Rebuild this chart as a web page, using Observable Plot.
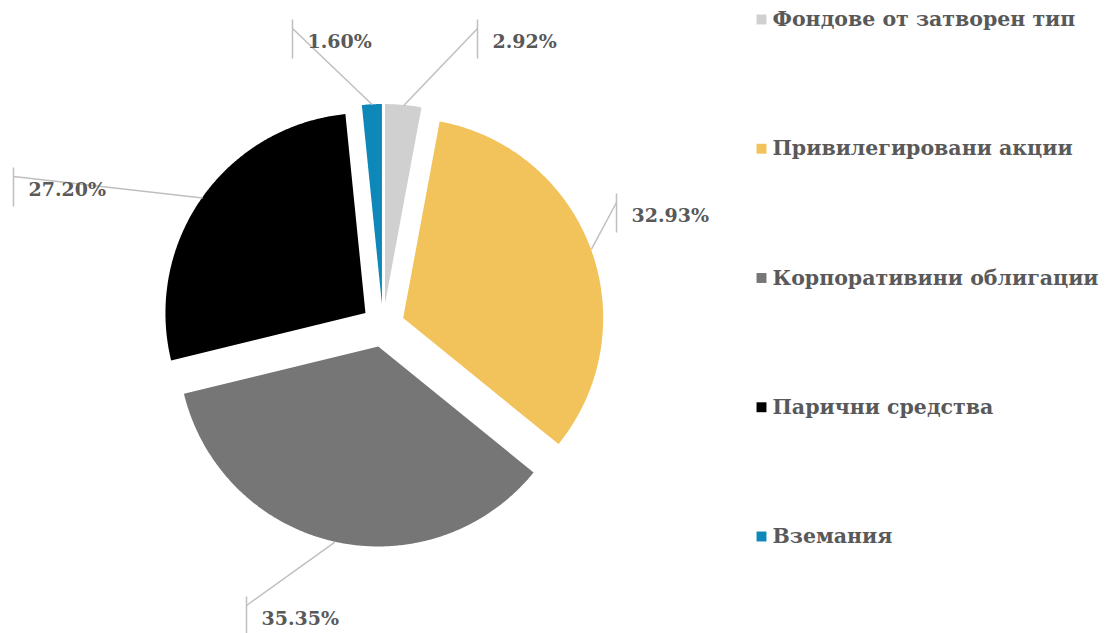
<!DOCTYPE html>
<html><head><meta charset="utf-8">
<script src="https://cdn.jsdelivr.net/npm/d3@7"></script>
<script src="https://cdn.jsdelivr.net/npm/@observablehq/plot@0.6"></script>
<style>body{margin:0;background:#fff} #chart{width:1112px;height:633px}</style>
</head><body><div id="chart"></div>
<script>
// ---- data ----
const categories = ["Фондове от затворен тип", "Привилегировани акции", "Корпоративини облигации", "Парични средства", "Вземания"];
const values = [2.92, 32.93, 35.35, 27.20, 1.60];
const labels = ["2.92%", "32.93%", "35.35%", "27.20%", "1.60%"];
const colors = ["#d0d0d0", "#f2c35b", "#767676", "#000000", "#0e87b9"];

// ---- layout (pixels) ----
const W = 1112, H = 633, CX = 383, CY = 325.5, R = 200, EXPLODE = 21.5;
const labelBoxes = [[477, 19], [616, 193], [246, 596], [13, 167], [292, 19]];
const legendX = 761, legendTextX = 772, legendY0 = 19, legendStep = 129.25;
const ux = px => (px - CX) / R;
const uy = py => (CY - py) / R;
const FONT = "DejaVu Serif";

// ---- slices ----
const total = d3.sum(values);
let acc = 0;
const slices = values.map((v, i) => {
  const a0 = acc / total * 2 * Math.PI; acc += v;
  const a1 = acc / total * 2 * Math.PI;
  const am = (a0 + a1) / 2, e = EXPLODE / R;
  return {name: categories[i], a0, a1, am, ox: e * Math.sin(am), oy: e * Math.cos(am)};
});
const arcPts = slices.flatMap(s => {
  const n = Math.max(2, Math.ceil((s.a1 - s.a0) / (Math.PI / 360)));
  return d3.range(n + 1).map(k => {
    const a = s.a0 + (s.a1 - s.a0) * k / n;
    return {name: s.name, x1: s.ox, y1: s.oy, x2: s.ox + Math.sin(a), y2: s.oy + Math.cos(a)};
  });
});
const leaders = slices.map((s, i) => {
  const [bx, by] = labelBoxes[i];
  return {x1: s.ox + Math.sin(s.am), y1: s.oy + Math.cos(s.am), x2: ux(bx), y2: uy(by + 9)};
});
const brackets = labelBoxes.map(([bx, by]) => ({x: ux(bx), y1: uy(by), y2: uy(by + 39)}));
const texts = labelBoxes.map(([bx, by], i) => ({x: ux(bx + 15), y: uy(by + 22), t: labels[i]}));
const legend = categories.map((c, i) => ({name: c, y: uy(legendY0 + legendStep * i)}));

const plot = Plot.plot({
  width: W, height: H, margin: 0,
  x: {domain: [ux(0), ux(W)], axis: null},
  y: {domain: [uy(H), uy(0)], axis: null},
  color: {domain: categories, range: colors},
  style: {background: "#fff", fontFamily: FONT},
  marks: [
    Plot.area(arcPts, {x1: "x1", y1: "y1", x2: "x2", y2: "y2", z: "name", fill: "name"}),
    Plot.link(leaders, {x1: "x1", y1: "y1", x2: "x2", y2: "y2", stroke: "#bfbfbf", strokeWidth: 1.5}),
    Plot.link(brackets, {x1: "x", x2: "x", y1: "y1", y2: "y2", stroke: "#bfbfbf", strokeWidth: 1.5}),
    Plot.text(texts, {x: "x", y: "y", text: "t", textAnchor: "start", fontSize: 19, fontWeight: "bold", fill: "#595959", fontFamily: FONT}),
    Plot.dot(legend, {x: ux(legendX), y: "y", symbol: "square", r: 5.6, fill: "name", stroke: null}),
    Plot.text(legend, {x: ux(legendTextX), y: "y", text: "name", textAnchor: "start", fontSize: 20.5, fontWeight: "bold", fill: "#595959", fontFamily: FONT})
  ]
});
document.getElementById("chart").append(plot);
</script>
</body></html>
